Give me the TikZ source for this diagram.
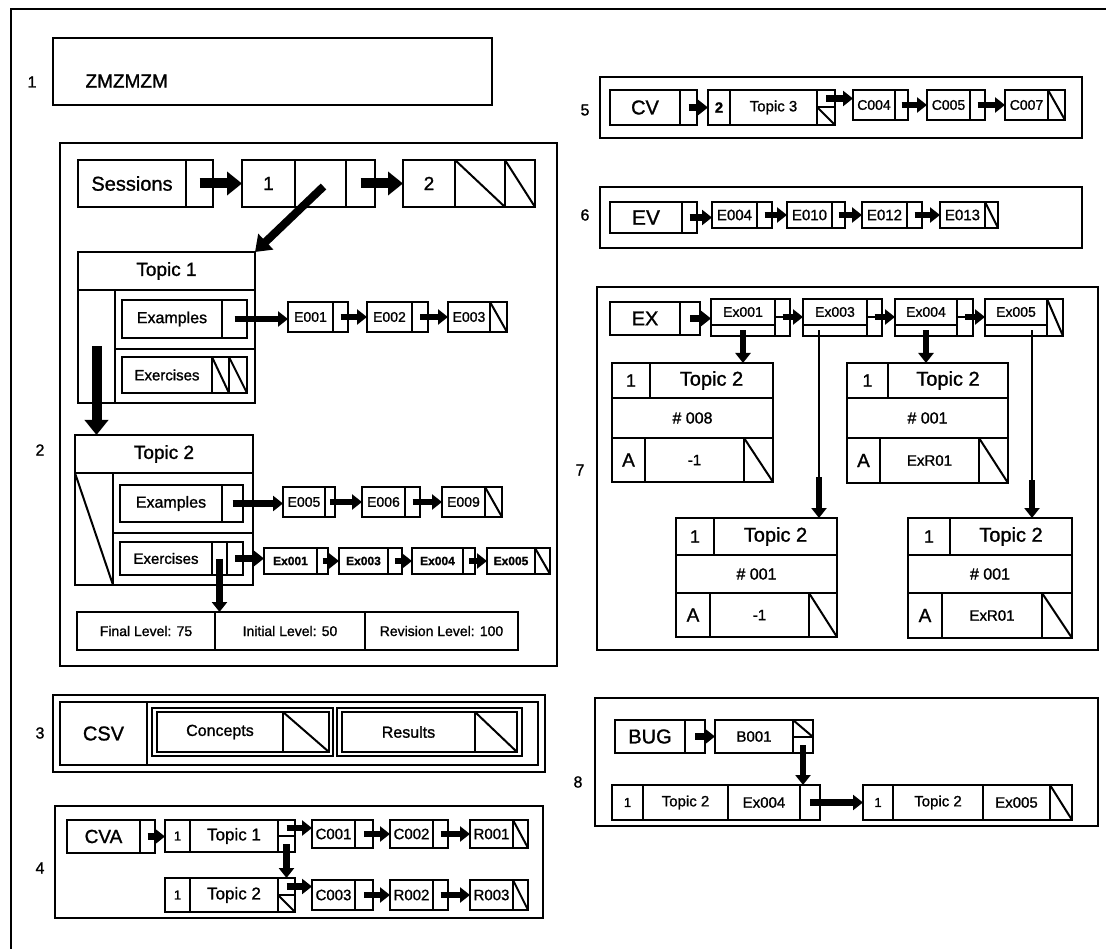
\documentclass[tikz,border=0pt]{standalone}
\usepackage{fontspec}
\setmainfont{Liberation Sans}[FakeBold=1.2]
\usepackage{tikz}
\usetikzlibrary{arrows.meta, calc}
\newcommand{\fsz}[1]{\fontsize{#1}{#1}\selectfont}
% one record cell: [options]{name}{x1}{y1}{x2}{y2}{text}
\newcommand{\rc}[7][]{\node[cell,#1,minimum width={(#5-#3)*1pt},minimum height={(#6-#4)*1pt}] (#2) at (#3,#4) {#7};}
\tikzset{
	cell/.style     ={draw, line width=2pt, inner sep=0pt, outer sep=0pt, anchor=north west, font=\fsz{14}},
	nilcell/.style  ={path picture={\draw[line width=2pt] (path picture bounding box.north west) -- (path picture bounding box.south east);}},
	frame/.style    ={draw, line width=2pt},
	lbl/.style      ={font=\fsz{16}},
	bigarrow/.style ={line width=10pt, -{Triangle[length=15pt,width=23pt]}},
	diagarrow/.style={line width=8pt, -{Triangle[length=15pt,width=21pt]}},
	ptr/.style      ={line width=6.5pt, -{Triangle[length=10pt,width=15pt]}},
	leader/.style   ={line width=1.6pt},
}
\begin{document}
\begin{tikzpicture}[x=1pt, y=-1pt]
\useasboundingbox (0,0) rectangle (1106,949);
\draw[frame] (11,949) -- (11,9) -- (1106,9);

% 1
\draw[frame] (53,38) rectangle (492,105);
\node[lbl] (l1) at (32,82) {1};
\node[anchor=west, font=\fsz{19}] (zm) at (82,81) {ZMZMZM};

% 2
\draw[frame] (60,143) rectangle (557,666);
\node[lbl] (l2) at (40,450) {2};
\rc[font=\fsz{20}]{ses}{78}{160}{186}{207}{Sessions}
\rc{sesp}{186}{160}{213}{207}{}
\rc[font=\fsz{19}]{n1a}{242}{160}{295}{207}{1}
\rc{n1b}{295}{160}{346}{207}{}
\rc{n1c}{346}{160}{375}{207}{}
\rc[font=\fsz{19}]{n2a}{403}{160}{455}{207}{2}
\rc[nilcell]{n2b}{455}{160}{505}{207}{}
\rc[nilcell]{n2c}{505}{160}{535}{207}{}
\draw[bigarrow] (sesp.center) -- (n1a.west);
\draw[bigarrow] (n1c.center) -- (n2a.west);
% topic 1
\rc[font=\fsz{19}]{t1h}{78}{252}{255}{290}{Topic 1}
\rc{t1l}{78}{290}{115}{403}{}
\rc{t1a}{115}{290}{255}{349}{}
\rc{t1b}{115}{349}{255}{403}{}
\rc[font=\fsz{16}]{t1ex}{122}{300}{222}{338}{Examples}
\rc{t1exp}{222}{300}{247}{338}{}
\rc[font=\fsz{15}]{t1xs}{122}{357}{212}{393}{Exercises}
\rc[nilcell]{t1xsa}{212}{357}{229}{393}{}
\rc[nilcell]{t1xsb}{229}{357}{247}{393}{}
\draw[diagarrow] ($(n1b.center)+(3,3)$) -- (t1h.north east);
\rc{e001}{288}{302}{333}{332}{E001}
\rc{e001p}{333}{302}{348}{332}{}
\rc{e002}{367}{302}{412}{332}{E002}
\rc{e002p}{412}{302}{428}{332}{}
\rc{e003}{448}{302}{490}{332}{E003}
\rc[nilcell]{e003p}{490}{302}{507}{332}{}
\draw[ptr] (t1exp.center) -- (t1exp.center -| e001.west);
\draw[ptr] (e001p.center) -- (e002.west);
\draw[ptr] (e002p.center) -- (e003.west);
% topic 2
\rc[font=\fsz{19}]{t2h}{75}{435}{253}{473}{Topic 2}
\rc[nilcell]{t2l}{75}{473}{113}{585}{}
\rc{t2a}{113}{473}{253}{533}{}
\rc{t2b}{113}{533}{253}{585}{}
\rc[font=\fsz{16}]{t2ex}{120}{485}{222}{522}{Examples}
\rc{t2exp}{222}{485}{243}{522}{}
\rc[font=\fsz{15}]{t2xs}{120}{542}{212}{575}{Exercises}
\rc{t2xsa}{212}{542}{227}{575}{}
\rc{t2xsb}{227}{542}{243}{575}{}
\draw[bigarrow] (t1l.center) -- (t1l.center |- t2h.north);
\rc{e005}{283}{487}{325}{517}{E005}
\rc{e005p}{325}{487}{335}{517}{}
\rc{e006}{362}{487}{405}{517}{E006}
\rc{e006p}{405}{487}{420}{517}{}
\rc{e009}{442}{487}{485}{517}{E009}
\rc[nilcell]{e009p}{485}{487}{502}{517}{}
\draw[ptr] (t2exp.center) -- (t2exp.center -| e005.west);
\draw[ptr] (e005p.center) -- (e006.west);
\draw[ptr] (e006p.center) -- (e009.west);
\rc[font=\bfseries\fsz{12}]{bx1}{264}{548}{317}{574}{Ex001}
\rc{bx1p}{317}{548}{328}{574}{}
\rc[font=\bfseries\fsz{12}]{bx3}{339}{548}{388}{574}{Ex003}
\rc{bx3p}{388}{548}{402}{574}{}
\rc[font=\bfseries\fsz{12}]{bx4}{412}{548}{463}{574}{Ex004}
\rc{bx4p}{463}{548}{475}{574}{}
\rc[font=\bfseries\fsz{12}]{bx5}{487}{548}{535}{574}{Ex005}
\rc[nilcell]{bx5p}{535}{548}{550}{574}{}
\draw[ptr] (t2xsb.center) -- (t2xsb.center -| bx1.west);
\draw[ptr] (bx1p.center) -- (bx3.west);
\draw[ptr] (bx3p.center) -- (bx4.west);
\draw[ptr] (bx4p.center) -- (bx5.west);
\rc{lv1}{77}{612}{215}{650}{Final Level: 75}
\rc{lv2}{215}{612}{365}{650}{Initial Level: 50}
\rc{lv3}{365}{612}{518}{650}{Revision Level: 100}
\draw[ptr] (t2xsa.center) -- (t2xsa.center |- lv1.north);

% 3
\draw[frame] (53,695) rectangle (545,772);
\draw[frame] (60,702) rectangle (538,765);
\node[lbl] (l3) at (40,733) {3};
\rc[font=\fsz{20}]{csv}{60}{702}{147}{765}{CSV}
\draw[frame] (152,708) rectangle (333,756);
\rc[font=\fsz{16}]{cpt}{157}{712}{283}{752}{Concepts}
\rc[nilcell]{cptn}{283}{712}{329}{752}{}
\draw[frame] (337,708) rectangle (522,756);
\rc[font=\fsz{16}]{res}{342}{712}{475}{752}{Results}
\rc[nilcell]{resn}{475}{712}{517}{752}{}

% 4
\draw[frame] (55,806) rectangle (543,918);
\node[lbl] (l4) at (40,868) {4};
\rc[font=\fsz{19}]{cva}{67}{820}{140}{853}{CVA}
\rc{cvap}{140}{820}{155}{853}{}
\rc[font=\fsz{13}]{ct1n}{165}{820}{190}{852}{1}
\rc[font=\fsz{17}]{ct1}{190}{820}{278}{852}{Topic 1}
\rc{ct1pa}{278}{820}{295}{836}{}
\rc{ct1pb}{278}{836}{295}{852}{}
\rc[font=\fsz{13}]{ct2n}{165}{878}{190}{912}{1}
\rc[font=\fsz{17}]{ct2}{190}{878}{278}{912}{Topic 2}
\rc{ct2pa}{278}{878}{295}{895}{}
\rc[nilcell]{ct2pb}{278}{895}{295}{912}{}
\rc[font=\fsz{15}]{c001}{312}{820}{355}{848}{C001}
\rc{c001p}{355}{820}{373}{848}{}
\rc[font=\fsz{15}]{c002}{390}{820}{433}{848}{C002}
\rc{c002p}{433}{820}{448}{848}{}
\rc[font=\fsz{15}]{r001}{470}{820}{513}{848}{R001}
\rc[nilcell]{r001p}{513}{820}{528}{848}{}
\rc[font=\fsz{15}]{c003}{312}{880}{355}{910}{C003}
\rc{c003p}{355}{880}{373}{910}{}
\rc[font=\fsz{15}]{r002}{390}{880}{433}{910}{R002}
\rc{r002p}{433}{880}{448}{910}{}
\rc[font=\fsz{15}]{r003}{470}{880}{513}{910}{R003}
\rc[nilcell]{r003p}{513}{880}{528}{910}{}
\draw[ptr] (cvap.center) -- (cvap.center -| ct1n.west);
\draw[ptr] (ct1pa.center) -- (ct1pa.center -| c001.west);
\draw[ptr] (c001p.center) -- (c002.west);
\draw[ptr] (c002p.center) -- (r001.west);
\draw[ptr] (ct1pb.center) -- (ct1pb.center |- ct2pa.north);
\draw[ptr] (ct2pa.center) -- (ct2pa.center -| c003.west);
\draw[ptr] (c003p.center) -- (r002.west);
\draw[ptr] (r002p.center) -- (r003.west);

% 5
\draw[frame] (600,77) rectangle (1082,138);
\node[lbl] (l5) at (585,110) {5};
\rc[font=\fsz{20}]{cv}{610}{90}{680}{125}{CV}
\rc{cvp}{680}{90}{697}{125}{}
\rc[font=\bfseries\fsz{15}]{tp3n}{708}{90}{730}{125}{2}
\rc[font=\fsz{15}]{tp3}{730}{90}{817}{125}{Topic 3}
\rc{tp3a}{817}{90}{835}{107}{}
\rc[nilcell]{tp3b}{817}{107}{835}{125}{}
\rc{c004}{853}{90}{895}{120}{C004}
\rc{c004p}{895}{90}{908}{120}{}
\rc{c005}{927}{90}{970}{120}{C005}
\rc{c005p}{970}{90}{985}{120}{}
\rc{c007}{1005}{90}{1048}{120}{C007}
\rc[nilcell]{c007p}{1048}{90}{1065}{120}{}
\draw[ptr] (cvp.center) -- (cvp.center -| tp3n.west);
\draw[ptr] (tp3a.center) -- (tp3a.center -| c004.west);
\draw[ptr] (c004p.center) -- (c005.west);
\draw[ptr] (c005p.center) -- (c007.west);

% 6
\draw[frame] (600,187) rectangle (1082,248);
\node[lbl] (l6) at (585,215) {6};
\rc[font=\fsz{21}]{ev}{610}{202}{682}{233}{EV}
\rc{evp}{682}{202}{697}{233}{}
\rc[font=\fsz{15}]{e004}{712}{202}{757}{228}{E004}
\rc{e004p}{757}{202}{772}{228}{}
\rc[font=\fsz{15}]{e010}{787}{202}{832}{228}{E010}
\rc{e010p}{832}{202}{845}{228}{}
\rc[font=\fsz{15}]{e012}{862}{202}{907}{228}{E012}
\rc{e012p}{907}{202}{922}{228}{}
\rc[font=\fsz{15}]{e013}{940}{202}{985}{228}{E013}
\rc[nilcell]{e013p}{985}{202}{998}{228}{}
\draw[ptr] (evp.center) -- (evp.center -| e004.west);
\draw[ptr] (e004p.center) -- (e010.west);
\draw[ptr] (e010p.center) -- (e012.west);
\draw[ptr] (e012p.center) -- (e013.west);

% 7
\draw[frame] (597,287) rectangle (1098,650);
\node[lbl] (l7) at (580,470) {7};
\rc[font=\fsz{20}]{ex}{610}{302}{680}{335}{EX}
\rc{exp}{680}{302}{700}{335}{}
\foreach \n/\xa/\xb/\xc in {1/711/775/790, 3/803/867/882, 4/895/957/973}{
	\rc[font=\fsz{14}]{ex\n}{\xa}{299}{\xb}{325}{Ex00\n}
	\rc{ex\n s}{\xa}{325}{\xb}{336}{}
	\rc{ex\n ra}{\xb}{299}{\xc}{317}{}
	\rc{ex\n rb}{\xb}{317}{\xc}{336}{}
}
\rc[font=\fsz{14}]{ex5}{985}{299}{1047}{325}{Ex005}
\rc{ex5s}{985}{325}{1047}{336}{}
\rc[nilcell]{ex5r}{1047}{299}{1063}{336}{}
\draw[ptr] (exp.center) -- (exp.center -| ex1.west);
\draw[ptr] (ex1ra.south) -- (ex1ra.south -| ex3.west);
\draw[ptr] (ex3ra.south) -- (ex3ra.south -| ex4.west);
\draw[ptr] (ex4ra.south) -- (ex4ra.south -| ex5.west);
% topic 2 entries
\foreach \p/\xa/\xn/\xq/\xs/\xb/\ya/\yb/\yc/\yd/\val in {
	a/612/650/645/744/773/363/398/438/482/-1,
	b/847/888/880/979/1008/363/398/438/483/ExR01,
	c/676/714/710/809/837/518/555/593/637/-1,
	d/908/950/942/1042/1072/518/555/593/638/ExR01}{
	\rc[font=\fsz{18}]{p\p 1}{\xa}{\ya}{\xn}{\yb}{1}
	\rc[font=\fsz{20}]{p\p 2}{\xn}{\ya}{\xb}{\yb}{Topic 2}
	\rc[font=\fsz{16}]{p\p 3}{\xa}{\yb}{\xb}{\yc}{}
	\rc[font=\fsz{19}]{p\p 4}{\xa}{\yc}{\xq}{\yd}{A}
	\rc[font=\fsz{15}]{p\p 5}{\xq}{\yc}{\xs}{\yd}{\val}
	\rc[nilcell]{p\p 6}{\xs}{\yc}{\xb}{\yd}{}
}
\node[font=\fsz{16}] (na) at (pa3) {\# 008};
\node[font=\fsz{16}] (nb) at (pb3) {\# 001};
\node[font=\fsz{16}] (nc) at (pc3) {\# 001};
\node[font=\fsz{16}] (nd) at (pd3) {\# 001};
\coordinate (k3) at (819,477);
\coordinate (k5) at (1032,480);
\draw[ptr] (ex1s.center) -- (ex1s.center |- pa2.north);
\draw[ptr] (ex4s.center) -- (ex4s.center |- pb2.north);
\draw[leader] (k3 |- ex3s.center) -- (k3);
\draw[ptr] (k3) -- (k3 |- pc2.north);
\draw[leader] (k5 |- ex5s.center) -- (k5);
\draw[ptr] (k5) -- (k5 |- pd2.north);

% 8
\draw[frame] (595,698) rectangle (1098,826);
\node[lbl] (l8) at (578,782) {8};
\rc[font=\fsz{20}]{bug}{615}{720}{685}{753}{BUG}
\rc{bugp}{685}{720}{705}{753}{}
\rc[font=\fsz{15}]{b001}{715}{720}{793}{753}{B001}
\rc[nilcell]{b001a}{793}{720}{813}{737}{}
\rc{b001b}{793}{737}{813}{753}{}
\rc[font=\fsz{13}]{r1a}{612}{785}{643}{820}{1}
\rc[font=\fsz{15}]{r1b}{643}{785}{728}{820}{Topic 2}
\rc[font=\fsz{15}]{r1c}{728}{785}{800}{820}{Ex004}
\rc{r1d}{800}{785}{820}{820}{}
\rc[font=\fsz{13}]{r2a}{863}{785}{893}{820}{1}
\rc[font=\fsz{15}]{r2b}{893}{785}{983}{820}{Topic 2}
\rc[font=\fsz{15}]{r2c}{983}{785}{1050}{820}{Ex005}
\rc[nilcell]{r2d}{1050}{785}{1072}{820}{}
\draw[ptr] (bugp.center) -- (bugp.center -| b001.west);
\draw[ptr] (b001b.center) -- (b001b.center |- r1d.north);
\draw[ptr] (r1d.center) -- (r1d.center -| r2a.west);
\end{tikzpicture}
\end{document}
